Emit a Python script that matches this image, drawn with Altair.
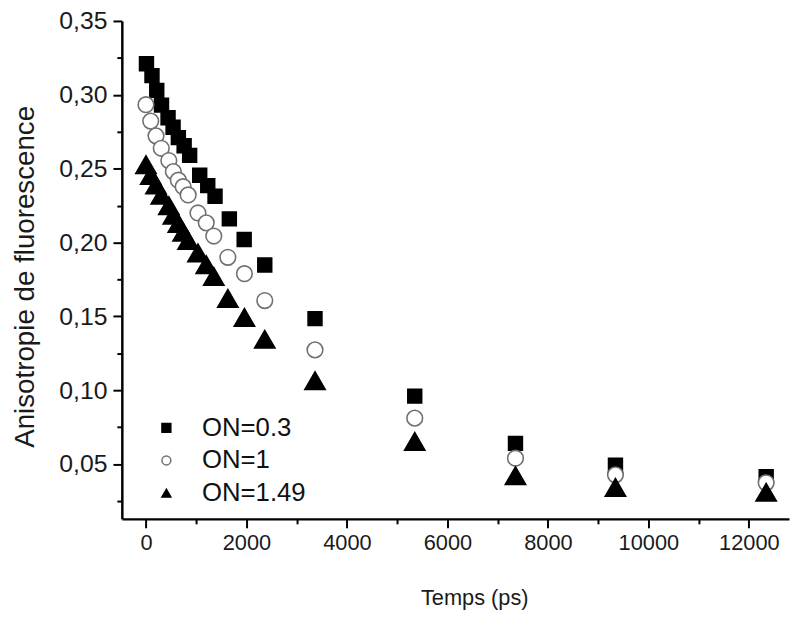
import altair as alt
import pandas as pd

series = ["ON=0.3", "ON=1", "ON=1.49"]
shapes = ["square", "circle", "triangle-up"]
fills = ["#000000", "#ffffff", "#000000"]
strokes = ["#000000", "#707070", "#000000"]
sizes = [195, 250, 420]

t_03 = [10, 120, 215, 310, 440, 540, 645, 760, 870, 1070, 1230, 1375, 1660, 1955, 2365, 3365, 5350, 7355, 9345, 12345]
r_03 = [0.321, 0.313, 0.303, 0.293, 0.2845, 0.278, 0.271, 0.2655, 0.259, 0.2455, 0.2385, 0.2313, 0.216, 0.202, 0.1848, 0.1485, 0.096, 0.064, 0.0493, 0.0415]

t_1 = [0, 95, 200, 305, 455, 545, 645, 740, 840, 1035, 1200, 1350, 1630, 1960, 2365, 3365, 5350, 7355, 9345, 12345]
r_1 = [0.2933, 0.2822, 0.2722, 0.2638, 0.2555, 0.248, 0.2422, 0.2378, 0.2322, 0.22, 0.2133, 0.2044, 0.19, 0.1789, 0.1607, 0.1273, 0.0811, 0.054, 0.0427, 0.0373]

t_149 = [0, 95, 200, 305, 455, 545, 645, 740, 840, 1035, 1200, 1350, 1630, 1960, 2365, 3365, 5350, 7355, 9345, 12345]
r_149 = [0.2527, 0.2455, 0.239, 0.232, 0.225, 0.2185, 0.213, 0.207, 0.2015, 0.193, 0.185, 0.177, 0.1622, 0.1493, 0.1345, 0.1065, 0.0653, 0.0422, 0.0342, 0.0309]

x_ticks = list(range(0, 13000, 1000))
y_ticks = [round(0.025 * k, 3) for k in range(1, 15)]

rows = []
for name, ts, rs in [(series[0], t_03, r_03), (series[1], t_1, r_1), (series[2], t_149, r_149)]:
    for t, r in zip(ts, rs):
        rows.append({"serie": name, "t": t, "r": r})
df = pd.DataFrame(rows)

FONT = "Liberation Sans"


def make_legend():
    return alt.Legend(
        title=None,
        orient="none",
        legendX=32,
        legendY=398,
        direction="vertical",
        labelFontSize=26,
        labelFont=FONT,
        labelColor="#111111",
        symbolSize=80,
        symbolStrokeWidth=1.5,
        labelOffset=23,
        rowPadding=7,
        padding=0,
    )


x_enc = alt.X(
    "t:Q",
    scale=alt.Scale(domain=[-480, 12800], nice=False, zero=False),
    axis=alt.Axis(
        title="Temps (ps)",
        values=x_ticks,
        format="d",
        labelExpr="datum.value % 2000 === 0 ? datum.label : ''",
        tickSize={"condition": {"test": "datum.value % 2000 === 0", "value": 9}, "value": 5},
        labelOverlap=False,
        labelFlush=False,
        labelPadding=5,
        labelFontSize=22,
        titleFontSize=22,
        titlePadding=34,
        titleX=356,
    ),
)

y_enc = alt.Y(
    "r:Q",
    scale=alt.Scale(domain=[0.0129, 0.35], nice=False, zero=False),
    axis=alt.Axis(
        title="Anisotropie de fluorescence",
        values=y_ticks,
        labelExpr="round(datum.value*40) % 2 === 0 ? replace(format(datum.value, '.2f'), '.', ',') : ''",
        tickSize={"condition": {"test": "round(datum.value*40) % 2 === 0", "value": 9}, "value": 5},
        labelOverlap=False,
        labelFlush=False,
        labelPadding=6,
        labelFontSize=25,
        titleFontSize=28,
        titlePadding=20,
        titleY=258,
    ),
)

base = alt.Chart(df).encode(
    x=x_enc,
    y=y_enc,
    shape=alt.Shape("serie:N", scale=alt.Scale(domain=series, range=shapes), legend=make_legend()),
    fill=alt.Fill("serie:N", scale=alt.Scale(domain=series, range=fills), legend=make_legend()),
    stroke=alt.Stroke("serie:N", scale=alt.Scale(domain=series, range=strokes), legend=make_legend()),
)

layers = []
for s, sz in zip(series, sizes):
    layers.append(
        base.transform_filter(alt.datum.serie == s).mark_point(
            filled=True, opacity=1, size=sz, strokeWidth=1.6
        )
    )

chart = (
    alt.layer(*layers)
    .properties(
        width=674,
        height=503,
        autosize=alt.AutoSizeParams(type="none"),
        padding={"left": 115, "top": 10, "right": 3, "bottom": 92},
    )
    .configure_view(stroke=None)
    .configure_axis(
        grid=False,
        domainColor="#000000",
        domainWidth=2.5,
        tickColor="#000000",
        tickWidth=2,
        labelColor="#1a1a1a",
        titleColor="#1a1a1a",
        labelFont=FONT,
        titleFont=FONT,
        titleFontWeight="normal",
    )
)

chart.save("out.html", embed_options={"renderer": "svg", "actions": False})
